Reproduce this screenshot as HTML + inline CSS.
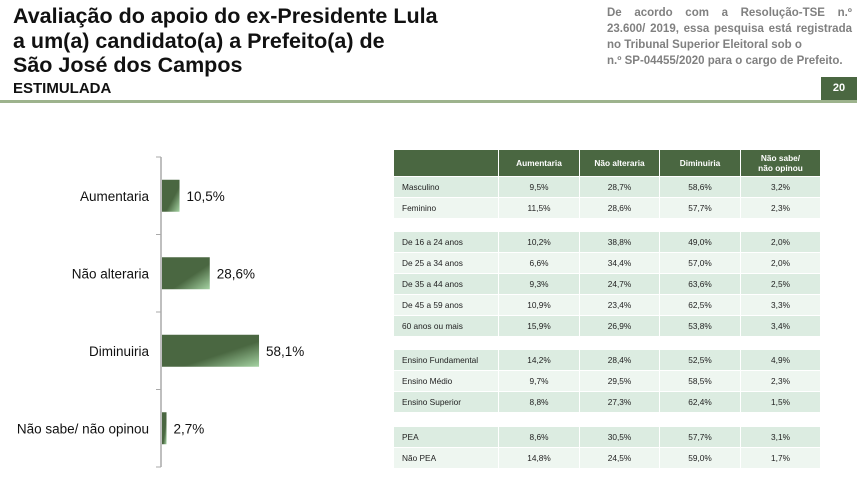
<!DOCTYPE html>
<html><head><meta charset="utf-8"><style>
body{margin:0;width:857px;height:493px;position:relative;background:#fff;font-family:"Liberation Sans",sans-serif;overflow:hidden}
.a{position:absolute}
#title{left:13px;top:4px;font-weight:bold;font-size:21.5px;line-height:24.5px;color:#111}
#sub{left:13px;top:80px;font-weight:bold;font-size:15px;color:#111}
#note{left:607px;top:5px;width:245px;font-weight:bold;font-size:11.5px;line-height:16px;color:#808080}
#note .j{text-align:justify;text-align-last:justify}
#pg{left:821px;top:77px;width:36px;height:23px;background:#4a6741;color:#fff;font-weight:bold;font-size:11px;line-height:23px;text-align:center}
#rule{left:0;top:100px;width:857px;height:3px;background:#9db38d}
.c{position:absolute;font-size:8.3px;color:#222;display:flex;align-items:center;justify-content:center}
.h{background:#4a6741;color:#fff;font-weight:bold;text-align:center;line-height:10px}
.lab{justify-content:flex-start;padding-left:8px;box-sizing:border-box}
</style></head><body>
<div id="title" class="a">Avaliação do apoio do ex-Presidente Lula<br>a um(a) candidato(a) a Prefeito(a) de<br>São José dos Campos</div>
<div id="sub" class="a">ESTIMULADA</div>
<div id="note" class="a"><div class="j">De acordo com a Resolução-TSE n.º</div><div class="j">23.600/ 2019, essa pesquisa está registrada</div><div>no Tribunal Superior Eleitoral sob o</div><div>n.º SP-04455/2020 para o cargo de Prefeito.</div></div>
<div id="pg" class="a">20</div>
<div id="rule" class="a"></div>
<svg class="a" style="left:0;top:0" width="390" height="493" id="chart">
<defs><linearGradient id="g" x1="0" y1="0" x2="1" y2="1"><stop offset="0.6" stop-color="#4a6741"/><stop offset="1" stop-color="#a5d3a3"/></linearGradient></defs>
</svg>
<div id="tbl"></div>
<script>
const categories=["Aumentaria","Não alteraria","Diminuiria","Não sabe/ não opinou"];
const values=[10.5,28.6,58.1,2.7];
const valueLabels=["10,5%","28,6%","58,1%","2,7%"];
const NS="http://www.w3.org/2000/svg";
const svg=document.getElementById('chart');
const x0=162, pxPer=1.67, top0=157, band=77.5, barH=32;
const xs=v=>x0+v*pxPer;
function mk(t,a){const e=document.createElementNS(NS,t);for(const k in a)e.setAttribute(k,a[k]);svg.appendChild(e);return e;}
const ax=mk('line',{x1:161,y1:top0,x2:161,y2:top0+band*4,stroke:'#aaa','stroke-width':1.5});


for(let i=0;i<=4;i++){const t=mk('line',{x1:156,x2:161,y1:top0+i*band,y2:top0+i*band,stroke:'#aaa'});

}
categories.forEach((c,i)=>{
 const cy=top0+band*i+band/2;
 const r=mk('rect',{x:x0,y:cy-barH/2,width:xs(values[i])-x0,height:barH,fill:'url(#g)'});
 
 
 const l=mk('text',{x:149,y:cy+5,'text-anchor':'end','font-size':13.5,fill:'#111','font-family':'Liberation Sans'});l.textContent=c;
 
 
 const v=mk('text',{x:xs(values[i])+7,y:cy+5,'font-size':13.5,fill:'#111','font-family':'Liberation Sans'});v.textContent=valueLabels[i];
 
 
});
const headers=["","Aumentaria","Não alteraria","Diminuiria","Não sabe/<br>não opinou"];
const rowLabels=["Masculino","Feminino","De 16 a 24 anos","De 25 a 34 anos","De 35 a 44 anos","De 45 a 59 anos","60 anos ou mais","Ensino Fundamental","Ensino Médio","Ensino Superior","PEA","Não PEA"];
const rowValues=[["9,5%","28,7%","58,6%","3,2%"],["11,5%","28,6%","57,7%","2,3%"],["10,2%","38,8%","49,0%","2,0%"],["6,6%","34,4%","57,0%","2,0%"],["9,3%","24,7%","63,6%","2,5%"],["10,9%","23,4%","62,5%","3,3%"],["15,9%","26,9%","53,8%","3,4%"],["14,2%","28,4%","52,5%","4,9%"],["9,7%","29,5%","58,5%","2,3%"],["8,8%","27,3%","62,4%","1,5%"],["8,6%","30,5%","57,7%","3,1%"],["14,8%","24,5%","59,0%","1,7%"]];
const colX=[394,499,580,660,741,821];
const rowY=[177,198,232,253,274,295,316,350,371,392,427,448];
const tbl=document.getElementById('tbl');
function cell(x,y,w,h,cls,html,bg){const d=document.createElement('div');d.className='c '+cls;d.style.cssText=`left:${x}px;top:${y}px;width:${w}px;height:${h}px;`+(bg?`background:${bg}`:'');d.innerHTML=html;tbl.appendChild(d);return d;}
headers.forEach((h,j)=>{const d=cell(colX[j],150,colX[j+1]-colX[j]-1,26,'h',h);

});
rowLabels.forEach((r,i)=>{
 const bg=(i===1||i===3||i===5||i===8||i===11)?'#eef6f0':'#dcece1';
 const d=cell(colX[0],rowY[i],colX[1]-colX[0]-1,20,'lab',r,bg);
 
 
 rowValues[i].forEach((v,j)=>{const e=cell(colX[j+1],rowY[i],colX[j+2]-colX[j+1]-1,20,'',v,bg);
 
 });
});
</script>
</body></html>
